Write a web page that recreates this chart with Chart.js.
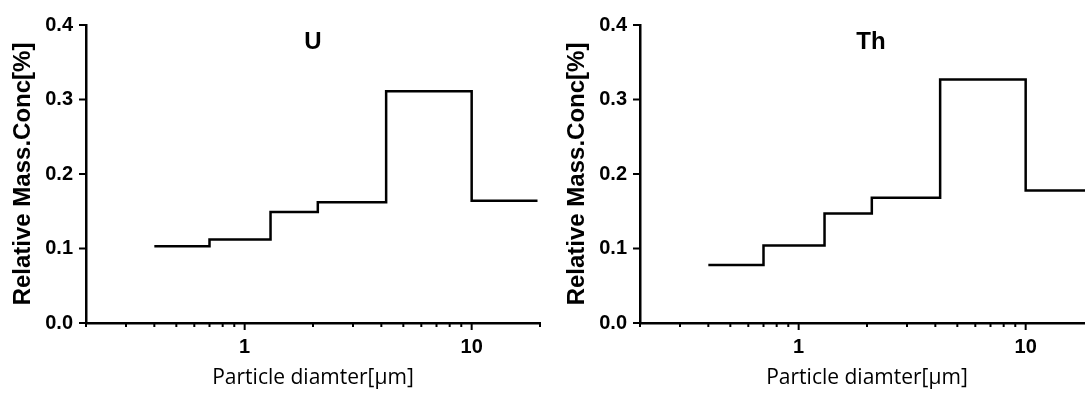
<!DOCTYPE html>
<html>
<head>
<meta charset="utf-8">
<script src="https://cdn.jsdelivr.net/npm/chart.js@4.4.1/dist/chart.umd.min.js"></script>
<style>
  html, body { margin: 0; padding: 0; background: #fff; overflow: hidden; }
  .panel { position: absolute; top: 0; width: 560px; height: 408px; }
  #wrapU { left: 0; }
  #wrapTh { left: 554px; }
</style>
</head>
<body>
<div class="panel" id="wrapU"><canvas id="chartU"></canvas></div>
<div class="panel" id="wrapTh"><canvas id="chartTh"></canvas></div>
<script>
// bin edges in µm (last edge just closes the final step)
const sizeEdgesU = [0.4, 0.7, 1.3, 2.1, 4.2, 10, 19.5];
const sizeEdgesTh = [0.4, 0.7, 1.3, 2.1, 4.2, 10, 20];
const uValues = [0.103, 0.112, 0.149, 0.162, 0.311, 0.164];
const thValues = [0.078, 0.104, 0.147, 0.168, 0.327, 0.178];

const xTickValues = [0.2, 0.3, 0.4, 0.5, 0.6, 0.7, 0.8, 0.9, 1, 2, 3, 4, 5, 6, 7, 8, 9, 10, 20];
const xTickLabels = { 1: '1', 10: '10' };
const yTickValues = [0, 0.1, 0.2, 0.3, 0.4];

const xTitle = 'Particle diamter[μm]';
const yTitle = 'Relative Mass.Conc[%]';

const boldFont = '"Liberation Sans", Arial, sans-serif';

// step points: each value holds until the next edge
function stepPoints(edges, values) {
  return edges.map((x, i) => ({ x: x, y: values[Math.min(i, values.length - 1)] }));
}

const tickMarks = {
  id: 'tickMarks',
  afterDraw(chart) {
    const { ctx, chartArea, scales } = chart;
    ctx.save();
    ctx.strokeStyle = '#000';
    ctx.lineWidth = 2;
    scales.x.ticks.forEach(t => {
      const px = scales.x.getPixelForValue(t.value);
      const len = xTickLabels[t.value] ? 7 : 4;
      ctx.beginPath();
      ctx.moveTo(px, chartArea.bottom);
      ctx.lineTo(px, chartArea.bottom + len);
      ctx.stroke();
    });
    scales.y.ticks.forEach(t => {
      const py = scales.y.getPixelForValue(t.value);
      ctx.beginPath();
      ctx.moveTo(chartArea.left, py);
      ctx.lineTo(chartArea.left - 7, py);
      ctx.stroke();
    });
    ctx.restore();
  }
};

const panelTitle = {
  id: 'panelTitle',
  afterDraw(chart, args, opts) {
    const { ctx, chartArea } = chart;
    ctx.save();
    ctx.font = 'bold 24px ' + boldFont;
    ctx.fillStyle = '#000';
    ctx.textAlign = 'center';
    ctx.textBaseline = 'middle';
    ctx.fillText(opts.text, (chartArea.left + chartArea.right) / 2 + (opts.dx || 0), 42);
    ctx.restore();
  }
};

function makeChart(id, edges, values, title, dx) {
  return new Chart(document.getElementById(id), {
    type: 'line',
    data: {
      datasets: [{
        data: stepPoints(edges, values),
        stepped: 'before',
        borderColor: '#000',
        borderWidth: 2.5,
        pointRadius: 0,
        fill: false
      }]
    },
    options: {
      responsive: true,
      maintainAspectRatio: false,
      animation: false,
      layout: { padding: { top: 21, right: 20, left: 0, bottom: 0 } },
      plugins: {
        legend: { display: false },
        tooltip: { enabled: false },
        panelTitle: { text: title, dx: dx }
      },
      scales: {
        x: {
          type: 'logarithmic',
          min: 0.2,
          max: 20,
          afterBuildTicks: s => { s.ticks = xTickValues.map(v => ({ value: v })); },
          afterFit: s => { s.height = 85; },
          grid: { display: false, drawTicks: false },
          border: { display: true, color: '#000', width: 2.5 },
          ticks: {
            autoSkip: false,
            maxRotation: 0,
            padding: 12,
            color: '#000',
            font: { family: boldFont, size: 20, weight: 'bold' },
            callback: v => xTickLabels[v] || ''
          },
          title: {
            display: true,
            text: xTitle,
            color: '#000',
            font: { family: '"Open Sans", sans-serif', size: 21 },
            padding: { top: 0, bottom: 17 }
          }
        },
        y: {
          min: 0,
          max: 0.4,
          afterBuildTicks: s => { s.ticks = yTickValues.map(v => ({ value: v })); },
          afterFit: s => { s.width = 86; },
          grid: { display: false, drawTicks: false },
          border: { display: true, color: '#000', width: 2.5 },
          ticks: {
            padding: 13,
            color: '#000',
            font: { family: boldFont, size: 20, weight: 'bold' },
            callback: v => v.toFixed(1)
          },
          title: {
            display: true,
            text: yTitle,
            color: '#000',
            font: { family: boldFont, size: 24, weight: 'bold' },
            padding: { top: 9, bottom: 0 }
          }
        }
      }
    },
    plugins: [tickMarks, panelTitle]
  });
}

makeChart('chartU', sizeEdgesU, uValues, 'U', 0);
makeChart('chartTh', sizeEdgesTh, thValues, 'Th', 4);
</script>
</body>
</html>
